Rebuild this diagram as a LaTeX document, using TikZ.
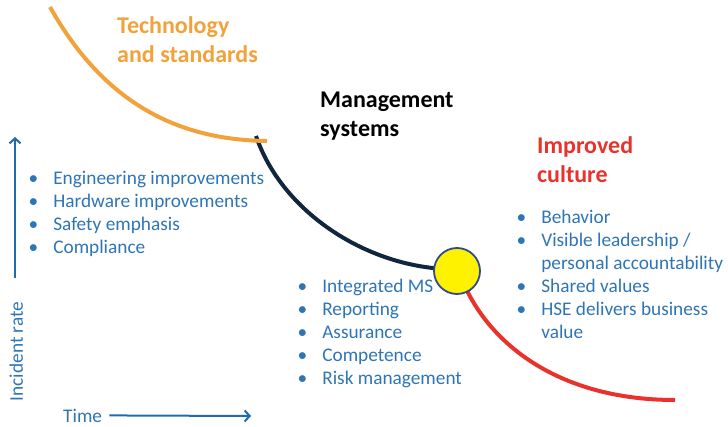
\documentclass[tikz,border=0pt]{standalone}
\usepackage{fontspec}
\setmainfont{Carlito}
\usetikzlibrary{arrows.meta}

\definecolor{txtblue}{HTML}{2E75B6}
\definecolor{axblue}{HTML}{1F6BAE}
\definecolor{techorange}{HTML}{F2A23A}
\definecolor{mgmtnavy}{HTML}{10263F}
\definecolor{cultred}{HTML}{E8322B}
\definecolor{dotblue}{HTML}{2F4B8C}

\begin{document}
\begin{tikzpicture}[x=1pt,y=-1pt,
        every node/.style={inner sep=0pt,anchor=north west,align=left},
        heading/.style={font=\fontsize{24}{29}\selectfont\bfseries},
        bullets/.style={text=txtblue,font=\fontsize{19.3}{23}\selectfont},
        curve/.style={line width=4pt},
        axis/.style={draw=axblue,line width=2pt,-{Straight Barb[length=5pt,width=11pt]}}]

    \useasboundingbox (0,0) rectangle (728,427);

    % headings
    \node[heading,text=techorange] (tech) at (117,16) {Technology\\and standards};
    \node[heading,text=black] (mgmt) at (320,92) {Management\\systems};
    \node[heading,text=cultred] (cult) at (537,136) {Improved\\culture};

    % bullet lists
    \node[bullets] (techlist) at (28.5,168) {\begin{tabular}{@{}l@{\hspace{15pt}}l@{}}
        \textbullet & Engineering improvements\\
        \textbullet & Hardware improvements\\
        \textbullet & Safety emphasis\\
        \textbullet & Compliance
    \end{tabular}};
    \node[bullets] (mgmtlist) at (297.5,276) {\begin{tabular}{@{}l@{\hspace{15pt}}l@{}}
        \textbullet & Integrated MS\\
        \textbullet & Reporting\\
        \textbullet & Assurance\\
        \textbullet & Competence\\
        \textbullet & Risk management
    \end{tabular}};
    \node[bullets] (cultlist) at (516.5,207) {\begin{tabular}{@{}l@{\hspace{15pt}}l@{}}
        \textbullet & Behavior\\
        \textbullet & Visible leadership /\\
                    & personal accountability\\
        \textbullet & Shared values\\
        \textbullet & HSE delivers business\\
                    & value
    \end{tabular}};

    % curves
    \coordinate (n1) at (256,136);
    \coordinate (n2) at (445,269);
    \coordinate (o1) at (50,7);
    \coordinate (o2) at (267,141);
    \coordinate (r1) at (463,282);
    \coordinate (r2) at (675,400);
    \draw[curve,draw=mgmtnavy] (n1) .. controls (282,212) and (365,265) .. (n2);
    \draw[curve,draw=techorange] (o1) .. controls (105,105) and (180,140) .. (o2);
    \draw[curve,draw=cultred] (r1) .. controls (490,345) and (560,400) .. (r2);
    \node[circle,anchor=center,minimum size=46pt,draw=dotblue,line width=1.8pt,fill=yellow] (dot) at (457,271) {};

    % axes
    \coordinate (ybot) at (15,278);
    \coordinate (ytop) at (15,137);
    \coordinate (tend) at (251,416);
    \draw[axis] (ybot) -- (ytop);
    \node[bullets,rotate=90,anchor=base] (ylabel) at (23,351.5) {Incident rate};
    \node[bullets,anchor=base west] (time) at (63,422) {Time};
    \draw[axis] ([xshift=7pt]time.east) -- (tend);
\end{tikzpicture}
\end{document}
